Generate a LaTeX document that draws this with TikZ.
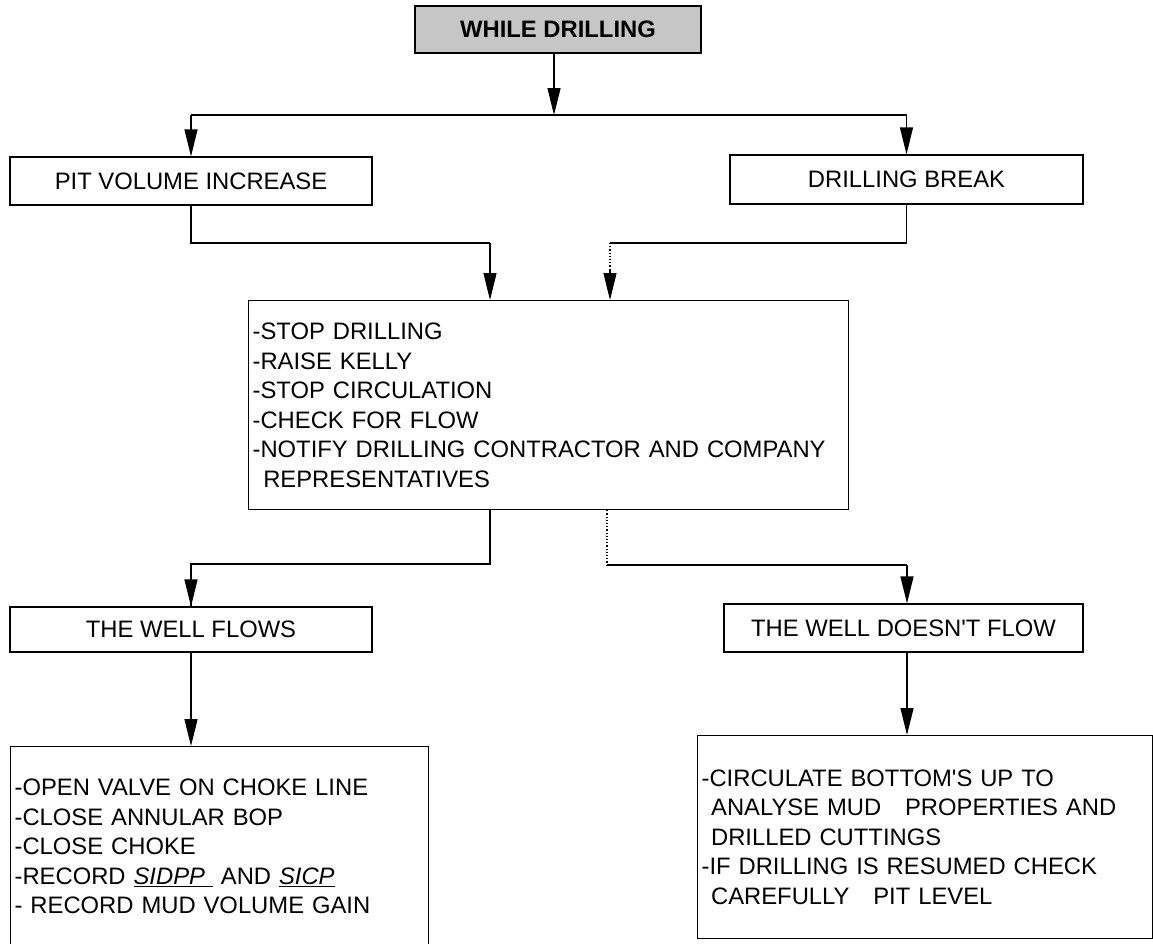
\documentclass[tikz,border=0pt]{standalone}
\usepackage{fontspec}
\setmainfont{Liberation Sans}[Ligatures=TeXOff]
\usetikzlibrary{arrows.meta}
\begin{document}
\begin{tikzpicture}[x=1pt,y=-1pt,
  box/.style={draw,line width=1.2pt,inner sep=0pt,font=\fontsize{23.8}{29.5}\selectfont},
  mbox/.style={box,anchor=north west,align=left,inner xsep=4pt},
  conn/.style={line width=1.2pt},
  arr/.style={conn,-{Triangle[length=27pt,width=13pt]}},
  dots/.style={line width=1.2pt,dotted}]
\useasboundingbox (0,0) rectangle (1153,943);
\node[box,fill=gray!45,minimum width=286pt,minimum height=47pt,font=\fontsize{23.8}{26}\selectfont\bfseries] (wd) at (558,29.5) {WHILE DRILLING};
\node[box,minimum width=362pt,minimum height=48pt] (pit) at (191,181) {PIT VOLUME INCREASE};
\node[box,minimum width=353pt,minimum height=49pt] (db) at (906.5,179.5) {DRILLING BREAK};
\node[mbox,minimum width=600pt,minimum height=209pt,text width=592pt] (ctr) at (248,300)
 {-STOP DRILLING\\-RAISE KELLY\\-STOP CIRCULATION\\-CHECK FOR FLOW\\-NOTIFY DRILLING CONTRACTOR AND COMPANY\\\hspace*{0.45em}REPRESENTATIVES};
\node[box,minimum width=362pt,minimum height=45pt] (flows) at (191,629.5) {THE WELL FLOWS};
\node[box,minimum width=359pt,minimum height=48pt] (dnf) at (903.5,628) {THE WELL DOESN'T FLOW};
\node[mbox,minimum width=418pt,minimum height=200pt,text width=410pt,inner xsep=3pt] (bl) at (10,746)
 {-OPEN VALVE ON CHOKE LINE\\-CLOSE ANNULAR BOP\\-CLOSE CHOKE\\-RECORD \underline{\textit{SIDPP}\ } AND \underline{\textit{SICP}}\\\mbox{}- RECORD MUD VOLUME GAIN\\[2pt]};
\node[mbox,minimum width=455pt,minimum height=203pt,text width=447pt,inner xsep=4pt] (br) at (697,735)
 {-CIRCULATE BOTTOM'S UP TO\\\hspace*{0.4em}ANALYSE MUD\ \ \ PROPERTIES AND\\\hspace*{0.4em}DRILLED CUTTINGS\\-IF DRILLING IS RESUMED CHECK\\\hspace*{0.4em}CAREFULLY\ \ \ PIT LEVEL};
% junction coordinates
\coordinate (j1) at (554,115);
\coordinate (jl) at (490,243);
\coordinate (jr) at (610,243);
\coordinate (jd) at (490,564);
\coordinate (je) at (607,565);
\coordinate (jf) at (907,565);
% connectors
\draw[arr] (wd.south -| j1) -- (j1);
\draw[conn] (pit.north |- j1) -- (db.north |- j1);
\draw[arr] (pit.north |- j1) -- (pit.north);
\draw[arr] (db.north |- j1) -- (db.north);
\draw[conn] (pit.south) |- (jl);
\draw[arr] (jl) -- (ctr.north -| jl);
\draw[conn] (db.south) |- (jr);
\draw[dots] (jr) -- ++(0,27);
\draw[arr] ([yshift=-27pt]jr) -- (ctr.north -| jr);
\draw[conn] (ctr.south -| jd) -- (jd) -| (flows.north);
\draw[arr] (flows.north |- jd) -- (flows.north);
\draw[dots] (ctr.south -| je) -- (je);
\draw[conn] (je) -- (jf);
\draw[arr] (jf) -- (dnf.north -| jf);
\draw[arr] (flows.south) -- (bl.north -| flows.south);
\draw[arr] (dnf.south -| jf) -- (br.north -| jf);
\end{tikzpicture}
\end{document}
